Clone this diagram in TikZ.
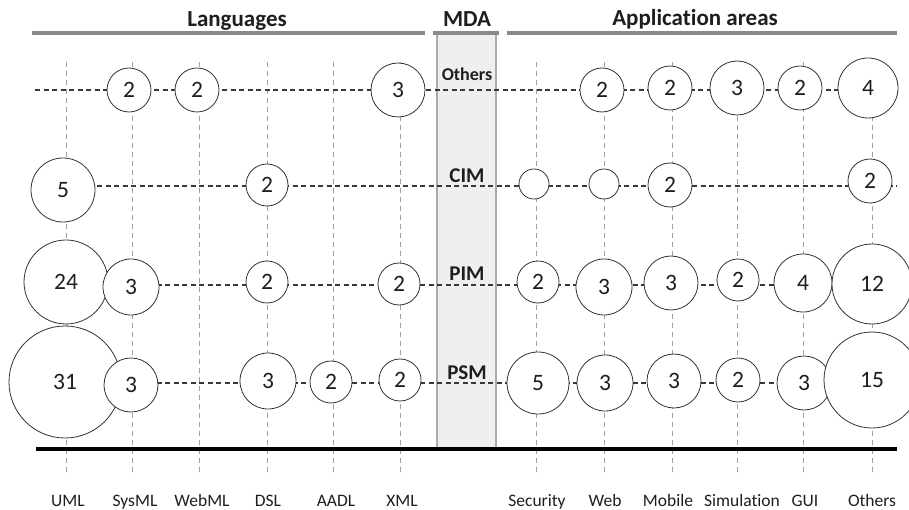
\documentclass[tikz,border=0pt]{standalone}
\usepackage{fontspec}
\setmainfont{Carlito}[Ligatures=NoCommon]
\usetikzlibrary{backgrounds}
\definecolor{vgray}{HTML}{A0A0A0}
\definecolor{rgray}{HTML}{383838}
\definecolor{hgray}{HTML}{8A8A8A}
\definecolor{boxfill}{HTML}{EFEFEF}
\definecolor{boxline}{HTML}{ABABAB}
\definecolor{ink}{HTML}{1E1E1E}
\tikzset{
  bub/.style={circle, draw=black!80, fill=white, line width=0.8pt, inner sep=0pt,
    minimum size=#1pt, text=ink, font=\fontsize{23.5}{23.5}\selectfont},
  colline/.style={draw=vgray, line width=0.8pt, dash pattern=on 5pt off 4pt},
  rowline/.style={draw=rgray, line width=1.1pt, dash pattern=on 5pt off 3.5pt},
  hdr/.style={font=\bfseries\fontsize{23}{23}\selectfont, text=ink, inner sep=0pt, anchor=base},
  hrule/.style={draw=hgray, line width=3.5pt},
  collabel/.style={font=\fontsize{17.5}{17.5}\selectfont, text=ink, inner sep=0pt, anchor=base},
  mdalabel/.style={font=\bfseries\fontsize{21}{21}\selectfont, text=ink, inner sep=0pt, anchor=base},
}
\begin{document}
\begin{tikzpicture}[x=1pt, y=-1pt]
\useasboundingbox (0,0) rectangle (909,510);
% headers
\node[hdr] (hLang) at (237,27) {Languages};
\node[hdr] (hMDA) at (467,27) {MDA};
\node[hdr] (hApp) at (695,26) {Application areas};
\coordinate (rL1) at (32,33); \coordinate (rL2) at (425,33);
\coordinate (rM1) at (433,33); \coordinate (rM2) at (499,33);
\coordinate (rA1) at (507,33); \coordinate (rA2) at (897,33);
% MDA box corners
\coordinate (boxTL) at (437,33); \coordinate (boxBR) at (496,449);
% MDA labels
\node[mdalabel, font=\bfseries\fontsize{18}{18}\selectfont] (mOth) at (467,81) {Others};
\node[mdalabel] (mCIM) at (467,183) {CIM};
\node[mdalabel] (mPIM) at (467,280) {PIM};
\node[mdalabel] (mPSM) at (467,379) {PSM};
% column labels
\node[collabel] (lUML) at (68,506) {UML};
\node[collabel] (lSys) at (135,506) {SysML};
\node[collabel] (lWeb) at (202,506) {WebML};
\node[collabel] (lDSL) at (268,506) {DSL};
\node[collabel] (lAADL) at (336,506) {AADL};
\node[collabel] (lXML) at (402,506) {XML};
\node[collabel] (lSec) at (537,506) {Security};
\node[collabel] (lWb) at (605,506) {Web};
\node[collabel] (lMob) at (668,506) {Mobile};
\node[collabel] (lSim) at (742,506) {Simulation};
\node[collabel] (lGUI) at (805,506) {GUI};
\node[collabel] (lOth) at (872,506) {Others};
% column line tops
\coordinate (cUML) at (66,62); \coordinate (cSys) at (132,62); \coordinate (cWeb) at (199,62);
\coordinate (cDSL) at (267,62); \coordinate (cAADL) at (333,62); \coordinate (cXML) at (400,62);
\coordinate (cSec) at (536,62); \coordinate (cWb) at (604,62); \coordinate (cMob) at (672,62);
\coordinate (cSim) at (737,62); \coordinate (cGUI) at (803,62); \coordinate (cOth) at (872,62);
\coordinate (vb) at (0,476);
% base line
\coordinate (base1) at (36,449); \coordinate (base2) at (897,449);
% row anchors
\coordinate (oStart) at (35,90);
\coordinate (cimEnd) at (897,186);
\coordinate (pimRow) at (0,285);
\coordinate (psmRow) at (0,383);

% Others row
\node[bub=44] (o-sys) at (129,90) {2};
\node[bub=44] (o-web) at (197,90) {2};
\node[bub=54] (o-xml) at (398,90) {3};
\node[bub=44] (o-wb) at (602,90) {2};
\node[bub=44] (o-mob) at (670,88) {2};
\node[bub=54] (o-sim) at (737,88) {3};
\node[bub=44] (o-gui) at (800,88) {2};
\node[bub=60] (o-oth) at (868,88) {4};
% CIM row
\node[bub=64] (c-uml) at (63,190) {5};
\node[bub=42] (c-dsl) at (267,185) {2};
\node[bub=30] (c-sec) at (534,184) {};
\node[bub=30] (c-wb) at (604,184) {};
\node[bub=44] (c-mob) at (670,185) {2};
\node[bub=44] (c-oth) at (870,181) {2};
% PIM row
\node[bub=84] (p-uml) at (66,282) {24};
\node[bub=56] (p-sys) at (131,287) {3};
\node[bub=42] (p-dsl) at (267,282) {2};
\node[bub=42] (p-xml) at (399,284) {2};
\node[bub=42] (p-sec) at (538,282) {2};
\node[bub=56] (p-wb) at (604,287) {3};
\node[bub=54] (p-mob) at (671,283) {3};
\node[bub=42] (p-sim) at (738,280) {2};
\node[bub=58] (p-gui) at (803,283) {4};
\node[bub=80] (p-oth) at (872,284) {12};
% PSM row
\node[bub=112] (s-uml) at (65,382) {31};
\node[bub=54] (s-sys) at (131,385) {3};
\node[bub=56] (s-dsl) at (268,381) {3};
\node[bub=42] (s-aadl) at (331,382) {2};
\node[bub=42] (s-xml) at (400,380) {2};
\node[bub=62] (s-sec) at (538,383) {5};
\node[bub=56] (s-wb) at (605,383) {3};
\node[bub=54] (s-mob) at (674,381) {3};
\node[bub=44] (s-sim) at (738,380) {2};
\node[bub=54] (s-gui) at (804,383) {3};
\node[bub=96] (s-oth) at (872,380) {15};

\begin{scope}[on background layer]
  \filldraw[fill=boxfill, draw=boxline, line width=1.5pt] (boxTL) rectangle (boxBR);
  \foreach \c in {cUML,cSys,cWeb,cDSL,cAADL,cXML,cSec,cWb,cMob,cSim,cGUI,cOth}
    \draw[colline] (\c) -- (\c |- vb);
  \draw[rowline] (oStart) -- (oStart -| o-oth);
  \draw[rowline] (cimEnd -| c-uml) -- (cimEnd);
  \draw[rowline] (pimRow -| p-sys) -- (pimRow -| p-oth);
  \draw[rowline] (psmRow -| s-sys) -- (psmRow -| s-oth);
\end{scope}

\draw[hrule] (rL1) -- (rL2);
\draw[hrule] (rM1) -- (rM2);
\draw[hrule] (rA1) -- (rA2);
\draw[line width=4pt, black] (base1) -- (base2);
\end{tikzpicture}
\end{document}
